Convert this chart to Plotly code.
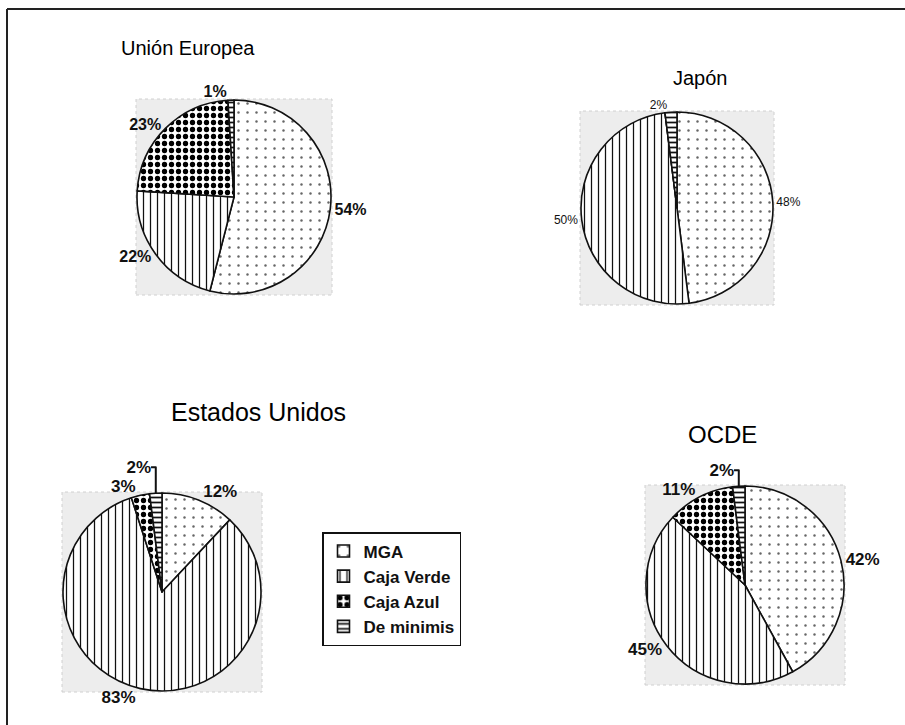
import plotly.graph_objects as go

W, H = 905, 725

categories = ["MGA", "Caja Verde", "Caja Azul", "De minimis"]
titles = ["Unión Europea", "Japón", "Estados Unidos", "OCDE"]
ue_values = [54, 22, 23, 1]
japon_values = [48, 50, 0, 2]
eeuu_values = [12, 83, 3, 2]
ocde_values = [42, 45, 11, 2]

def px_x(v):
    return v / W

def px_y(v):
    return 1 - v / H

pat_size = [9, 7, 7, 5]
pat_sol = [0.06, 0.18, 0.45, 0.35]
pat_fg = ["#666666", "#111111", "#000000", "#111111"]

# (values, centre x, centre y, radius) in pixels, text size, text weight, title pos, title size
panels = [
    (ue_values, 234, 197, 97, 16, "bold", (188, 48), 20),
    (japon_values, 677, 208, 96, 12, "normal", (700, 78), 20),
    (eeuu_values, 162, 592, 99, 17, "bold", (258, 412), 25),
    (ocde_values, 745, 585, 99, 17, "bold", (722, 434), 24),
]

fig = go.Figure()
shapes = []
annotations = []
for i, (vals, cx, cy, r, ts, tw, tpos, tsz) in enumerate(panels):
    texts = [f"{v}%" if v else "" for v in vals]
    fig.add_trace(go.Pie(
        labels=categories,
        values=vals,
        text=texts,
        textinfo="text",
        textposition="outside",
        textfont=dict(family="Liberation Sans", size=ts, color="#111111", weight=tw),
        sort=False,
        direction="clockwise",
        rotation=0,
        domain=dict(x=[px_x(cx - r), px_x(cx + r)], y=[px_y(cy + r), px_y(cy - r)]),
        marker=dict(
            colors=["white"] * 4,
            line=dict(color="#111111", width=1.6),
            pattern=dict(shape=[".", "|", ".", "-"], size=pat_size,
                         solidity=pat_sol, fgcolor=pat_fg, bgcolor=["white"] * 4,
                         fillmode="replace"),
        ),
        showlegend=(i == 0),
        hoverinfo="label+percent",
    ))
    shapes.append(dict(type="rect", xref="paper", yref="paper",
                       x0=px_x(cx - r - 1), x1=px_x(cx + r + 1),
                       y0=px_y(cy + r + 1), y1=px_y(cy - r - 1),
                       fillcolor="#ededed", line=dict(color="#d0d0d0", width=1, dash="dot"),
                       layer="below"))
    annotations.append(dict(text=titles[i], x=px_x(tpos[0]), y=px_y(tpos[1]),
                            xref="paper", yref="paper", showarrow=False,
                            xanchor="center", yanchor="middle",
                            font=dict(family="Liberation Sans", size=tsz, color="#000000")))

# page frame (top and left edges)
shapes.append(dict(type="line", xref="paper", yref="paper",
                   x0=px_x(7), x1=1, y0=px_y(9), y1=px_y(9),
                   line=dict(color="#222222", width=2)))
shapes.append(dict(type="line", xref="paper", yref="paper",
                   x0=px_x(7), x1=px_x(7), y0=px_y(9), y1=0,
                   line=dict(color="#222222", width=2)))

fig.update_layout(
    width=W, height=H,
    margin=dict(l=0, r=0, t=0, b=0),
    paper_bgcolor="white",
    plot_bgcolor="rgba(0,0,0,0)",
    shapes=shapes,
    annotations=annotations,
    legend=dict(
        x=px_x(322), y=px_y(532), xanchor="left", yanchor="top",
        bgcolor="white", bordercolor="#111111", borderwidth=1.5,
        font=dict(family="Liberation Sans", size=17, color="#111111", weight="bold"),
        itemwidth=30,
    ),
)

fig.write_html("out.html")
